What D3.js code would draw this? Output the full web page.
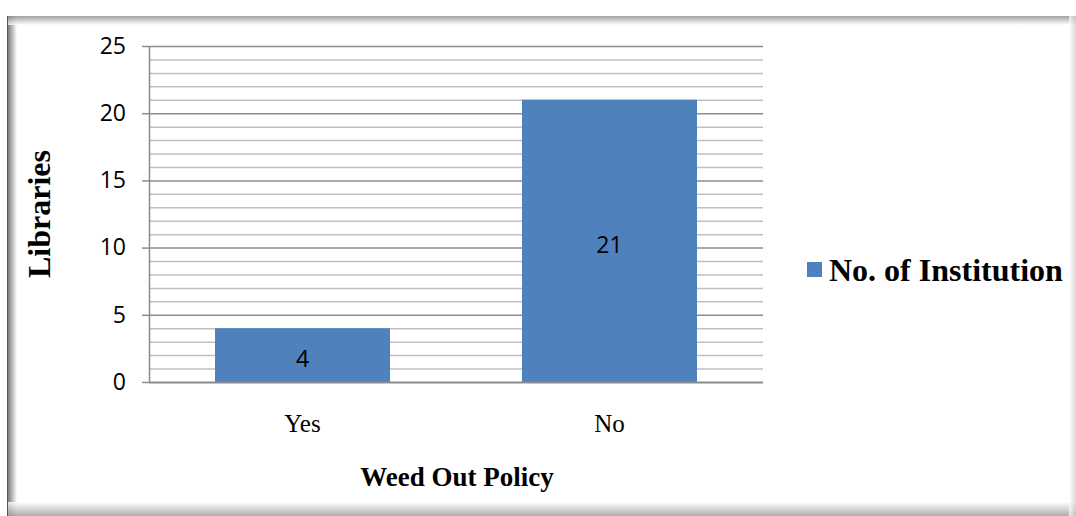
<!DOCTYPE html>
<html>
<head>
<meta charset="utf-8">
<script src="https://cdn.jsdelivr.net/npm/d3@7"></script>
<style>
  body { margin: 0; background: #fff; }
  svg { display: block; }
</style>
</head>
<body>
<svg id="chart" width="1076" height="516"></svg>
<script>
// chart data
var categories = ["Yes", "No"];
var institutions = [4, 21];
var yTicks = [0, 5, 10, 15, 20, 25];

var svg = d3.select("#chart");
var W = 1076, H = 516;
var defs = svg.append("defs");

// soft shaded frame edges (fade from gray to white inward)
function edgeGradient(id, x1, y1, x2, y2, color) {
    var g = defs.append("linearGradient").attr("id", id)
        .attr("x1", x1).attr("y1", y1).attr("x2", x2).attr("y2", y2);
    g.append("stop").attr("offset", "0%").attr("stop-color", color);
    g.append("stop").attr("offset", "100%").attr("stop-color", "#fff");
}
edgeGradient("gLeft", "0", "0", "1", "0", "#6e6e6e");
edgeGradient("gTop", "0", "0", "0", "1", "#8a8a8a");
edgeGradient("gBottom", "0", "1", "0", "0", "#9a9a9a");
edgeGradient("gRight", "1", "0", "0", "0", "#c8c8c8");

svg.append("rect").attr("x", 7).attr("y", 16).attr("width", W - 7).attr("height", H - 16)
    .attr("fill", "#fff");
svg.append("rect").attr("x", 7).attr("y", 16).attr("width", 10).attr("height", H - 16)
    .attr("fill", "url(#gLeft)");
svg.append("rect").attr("x", 7).attr("y", 16).attr("width", W - 7).attr("height", 9)
    .attr("fill", "url(#gTop)").attr("opacity", 0.8);
svg.append("rect").attr("x", 7).attr("y", H - 14).attr("width", W - 7).attr("height", 14)
    .attr("fill", "url(#gBottom)").attr("opacity", 0.8);
svg.append("rect").attr("x", W - 7).attr("y", 16).attr("width", 7).attr("height", H - 16)
    .attr("fill", "url(#gRight)").attr("opacity", 0.7);
svg.append("line").attr("x1", 7.5).attr("x2", 7.5).attr("y1", 16).attr("y2", H)
    .attr("stroke", "#555").attr("stroke-width", 1);

var plot = {left: 149, right: 763, top: 46, bottom: 382};

var x = d3.scaleBand()
    .domain(categories)
    .range([plot.left, plot.right])
    .paddingInner(0.43)
    .paddingOuter(0.215);

var y = d3.scaleLinear()
    .domain([0, 25])
    .range([plot.bottom, plot.top]);

// minor gridlines every unit
var minor = d3.range(1, 25).filter(function(v) { return v % 5 !== 0; });
svg.append("g").selectAll("line").data(minor).enter().append("line")
    .attr("x1", plot.left).attr("x2", plot.right)
    .attr("y1", function(d) { return y(d) + 0.5; })
    .attr("y2", function(d) { return y(d) + 0.5; })
    .attr("stroke", "#bfbfbf").attr("stroke-width", 1.5);

// major gridlines
svg.append("g").selectAll("line").data(yTicks.slice(1)).enter().append("line")
    .attr("x1", plot.left).attr("x2", plot.right)
    .attr("y1", function(d) { return y(d) + 0.5; })
    .attr("y2", function(d) { return y(d) + 0.5; })
    .attr("stroke", "#8c8c8c").attr("stroke-width", 1.5);

// bars
svg.append("g").selectAll("rect").data(institutions).enter().append("rect")
    .attr("x", function(d, i) { return x(categories[i]); })
    .attr("width", x.bandwidth())
    .attr("y", function(d) { return y(d); })
    .attr("height", function(d) { return y(0) - y(d); })
    .attr("fill", "#4f81bd");

// bar value labels
svg.append("g").selectAll("text").data(institutions).enter().append("text")
    .attr("x", function(d, i) { return x(categories[i]) + x.bandwidth() / 2; })
    .attr("y", function(d) { return (y(d) + y(0)) / 2 + 12; })
    .attr("text-anchor", "middle")
    .attr("font-family", "Open Sans, sans-serif")
    .attr("font-size", 23)
    .attr("fill", "#000")
    .text(function(d) { return d; });

// y axis
var yAxis = svg.append("g")
    .attr("transform", "translate(" + plot.left + ",0)")
    .call(d3.axisLeft(y).tickValues(yTicks).tickSize(7).tickPadding(16));
yAxis.select(".domain").attr("stroke", "#8c8c8c").attr("stroke-width", 1.5)
    .attr("d", "M0.5," + plot.top + "V" + (plot.bottom + 0.5));
yAxis.selectAll(".tick line").attr("stroke", "#8c8c8c").attr("stroke-width", 1.5);
yAxis.selectAll(".tick text")
    .attr("font-family", "Open Sans, sans-serif")
    .attr("font-size", 23)
    .attr("fill", "#000");

// x axis baseline
svg.append("line")
    .attr("x1", plot.left).attr("x2", plot.right)
    .attr("y1", y(0) + 0.5).attr("y2", y(0) + 0.5)
    .attr("stroke", "#8c8c8c").attr("stroke-width", 2);

// category labels
svg.append("g").selectAll("text").data(categories).enter().append("text")
    .attr("x", function(d) { return x(d) + x.bandwidth() / 2; })
    .attr("y", 432)
    .attr("text-anchor", "middle")
    .attr("font-family", "Liberation Serif, Times New Roman, serif")
    .attr("font-size", 25)
    .text(function(d) { return d; });

// axis titles
svg.append("text")
    .attr("x", 457).attr("y", 486)
    .attr("text-anchor", "middle")
    .attr("font-family", "Liberation Serif, Times New Roman, serif")
    .attr("font-weight", "bold")
    .attr("font-size", 27)
    .text("Weed Out Policy");

svg.append("text")
    .attr("transform", "translate(50,214) rotate(-90)")
    .attr("text-anchor", "middle")
    .attr("font-family", "Liberation Serif, Times New Roman, serif")
    .attr("font-weight", "bold")
    .attr("font-size", 32)
    .text("Libraries");

// legend
svg.append("rect")
    .attr("x", 807).attr("y", 262).attr("width", 15).attr("height", 15)
    .attr("fill", "#4f81bd");
svg.append("text")
    .attr("x", 829).attr("y", 281)
    .attr("font-family", "Liberation Serif, Times New Roman, serif")
    .attr("font-weight", "bold")
    .attr("font-size", 32)
    .text("No. of Institution");
</script>
</body>
</html>
